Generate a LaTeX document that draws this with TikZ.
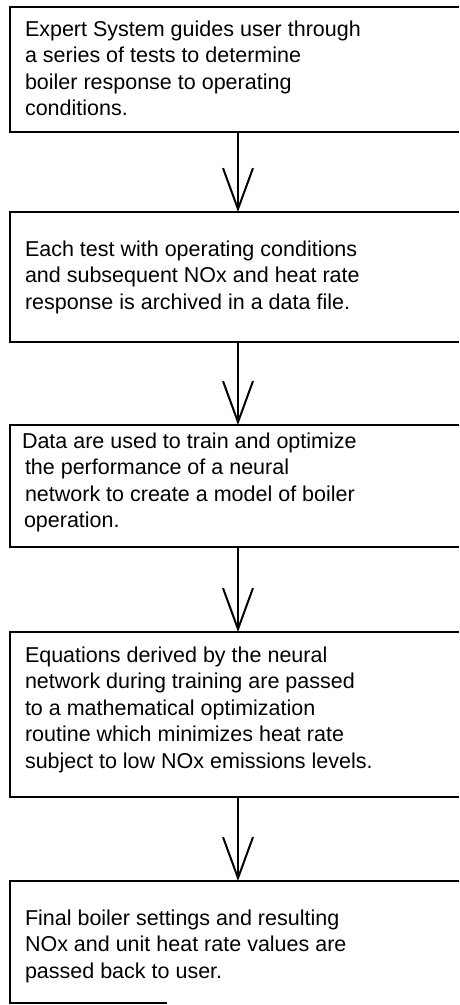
\documentclass[tikz,border=0pt]{standalone}
\usepackage{fontspec}
\setmainfont{Liberation Sans}
\usetikzlibrary{arrows.meta}
\tikzset{
  box/.style={rectangle, outer sep=0pt, inner sep=0pt,
              anchor=north west, minimum width=449pt},
  edge/.style={line width=1.8pt},
  txt/.style={anchor=base west, inner sep=0pt, outer sep=0pt},
  flow/.style={line width=2pt, -{Straight Barb[length=41pt,width=30pt]}}
}
\newcommand{\boxtext}[1]{\parbox[t]{420pt}{\fontsize{21.5}{26.5}\selectfont\raggedright #1}}
\begin{document}
\begin{tikzpicture}[x=1pt,y=-1pt]
\useasboundingbox (0,0) rectangle (459,1005);
% boxes (their right sides lie beyond the picture's edge)
\node[box, minimum height=125pt] (b1) at (10,7) {};
\node[box, minimum height=130pt] (b2) at (10,212) {};
\node[box, minimum height=122pt] (b3) at (10,425) {};
\node[box, minimum height=165pt] (b4) at (10,632) {};
\node[box, minimum height=122pt] (b5) at (10,881) {};
\foreach \b in {b1,b2,b3,b4}
  \draw[edge] (\b.north east) -- (\b.north west) -- (\b.south west) -- (\b.south east);
\draw[edge] (b5.north east) -- (b5.north west) -- (b5.south west) -- ++(157,0);
% texts
\node[txt] (t1) at (25,36) {\boxtext{Expert System guides user through\\a series of tests to determine\\boiler response to operating\\conditions.}};
\node[txt] (t2) at (25,256) {\boxtext{Each test with operating conditions\\and subsequent NOx and heat rate\\response is archived in a data file.}};
\node[txt] (t3) at (25,448) {\boxtext{\hspace*{-3pt}Data are used to train and optimize\\the performance of a neural\\network to create a model of boiler\\\hspace*{-1pt}operation.}};
\node[txt] (t4) at (25,662) {\boxtext{Equations derived by the neural\\network during training are passed\\to a mathematical optimization\\routine which minimizes heat rate\\subject to low NOx emissions levels.}};
\node[txt] (t5) at (25,925) {\boxtext{Final boiler settings and resulting\\NOx and unit heat rate values are\\passed back to user.}};
% connectors
\draw[flow] ([xshift=228pt]b1.south west) -- ([xshift=228pt]b2.north west);
\draw[flow] ([xshift=228pt]b2.south west) -- ([xshift=228pt]b3.north west);
\draw[flow] ([xshift=228pt]b3.south west) -- ([xshift=228pt]b4.north west);
\draw[flow] ([xshift=228pt]b4.south west) -- ([xshift=228pt]b5.north west);
\end{tikzpicture}
\end{document}
